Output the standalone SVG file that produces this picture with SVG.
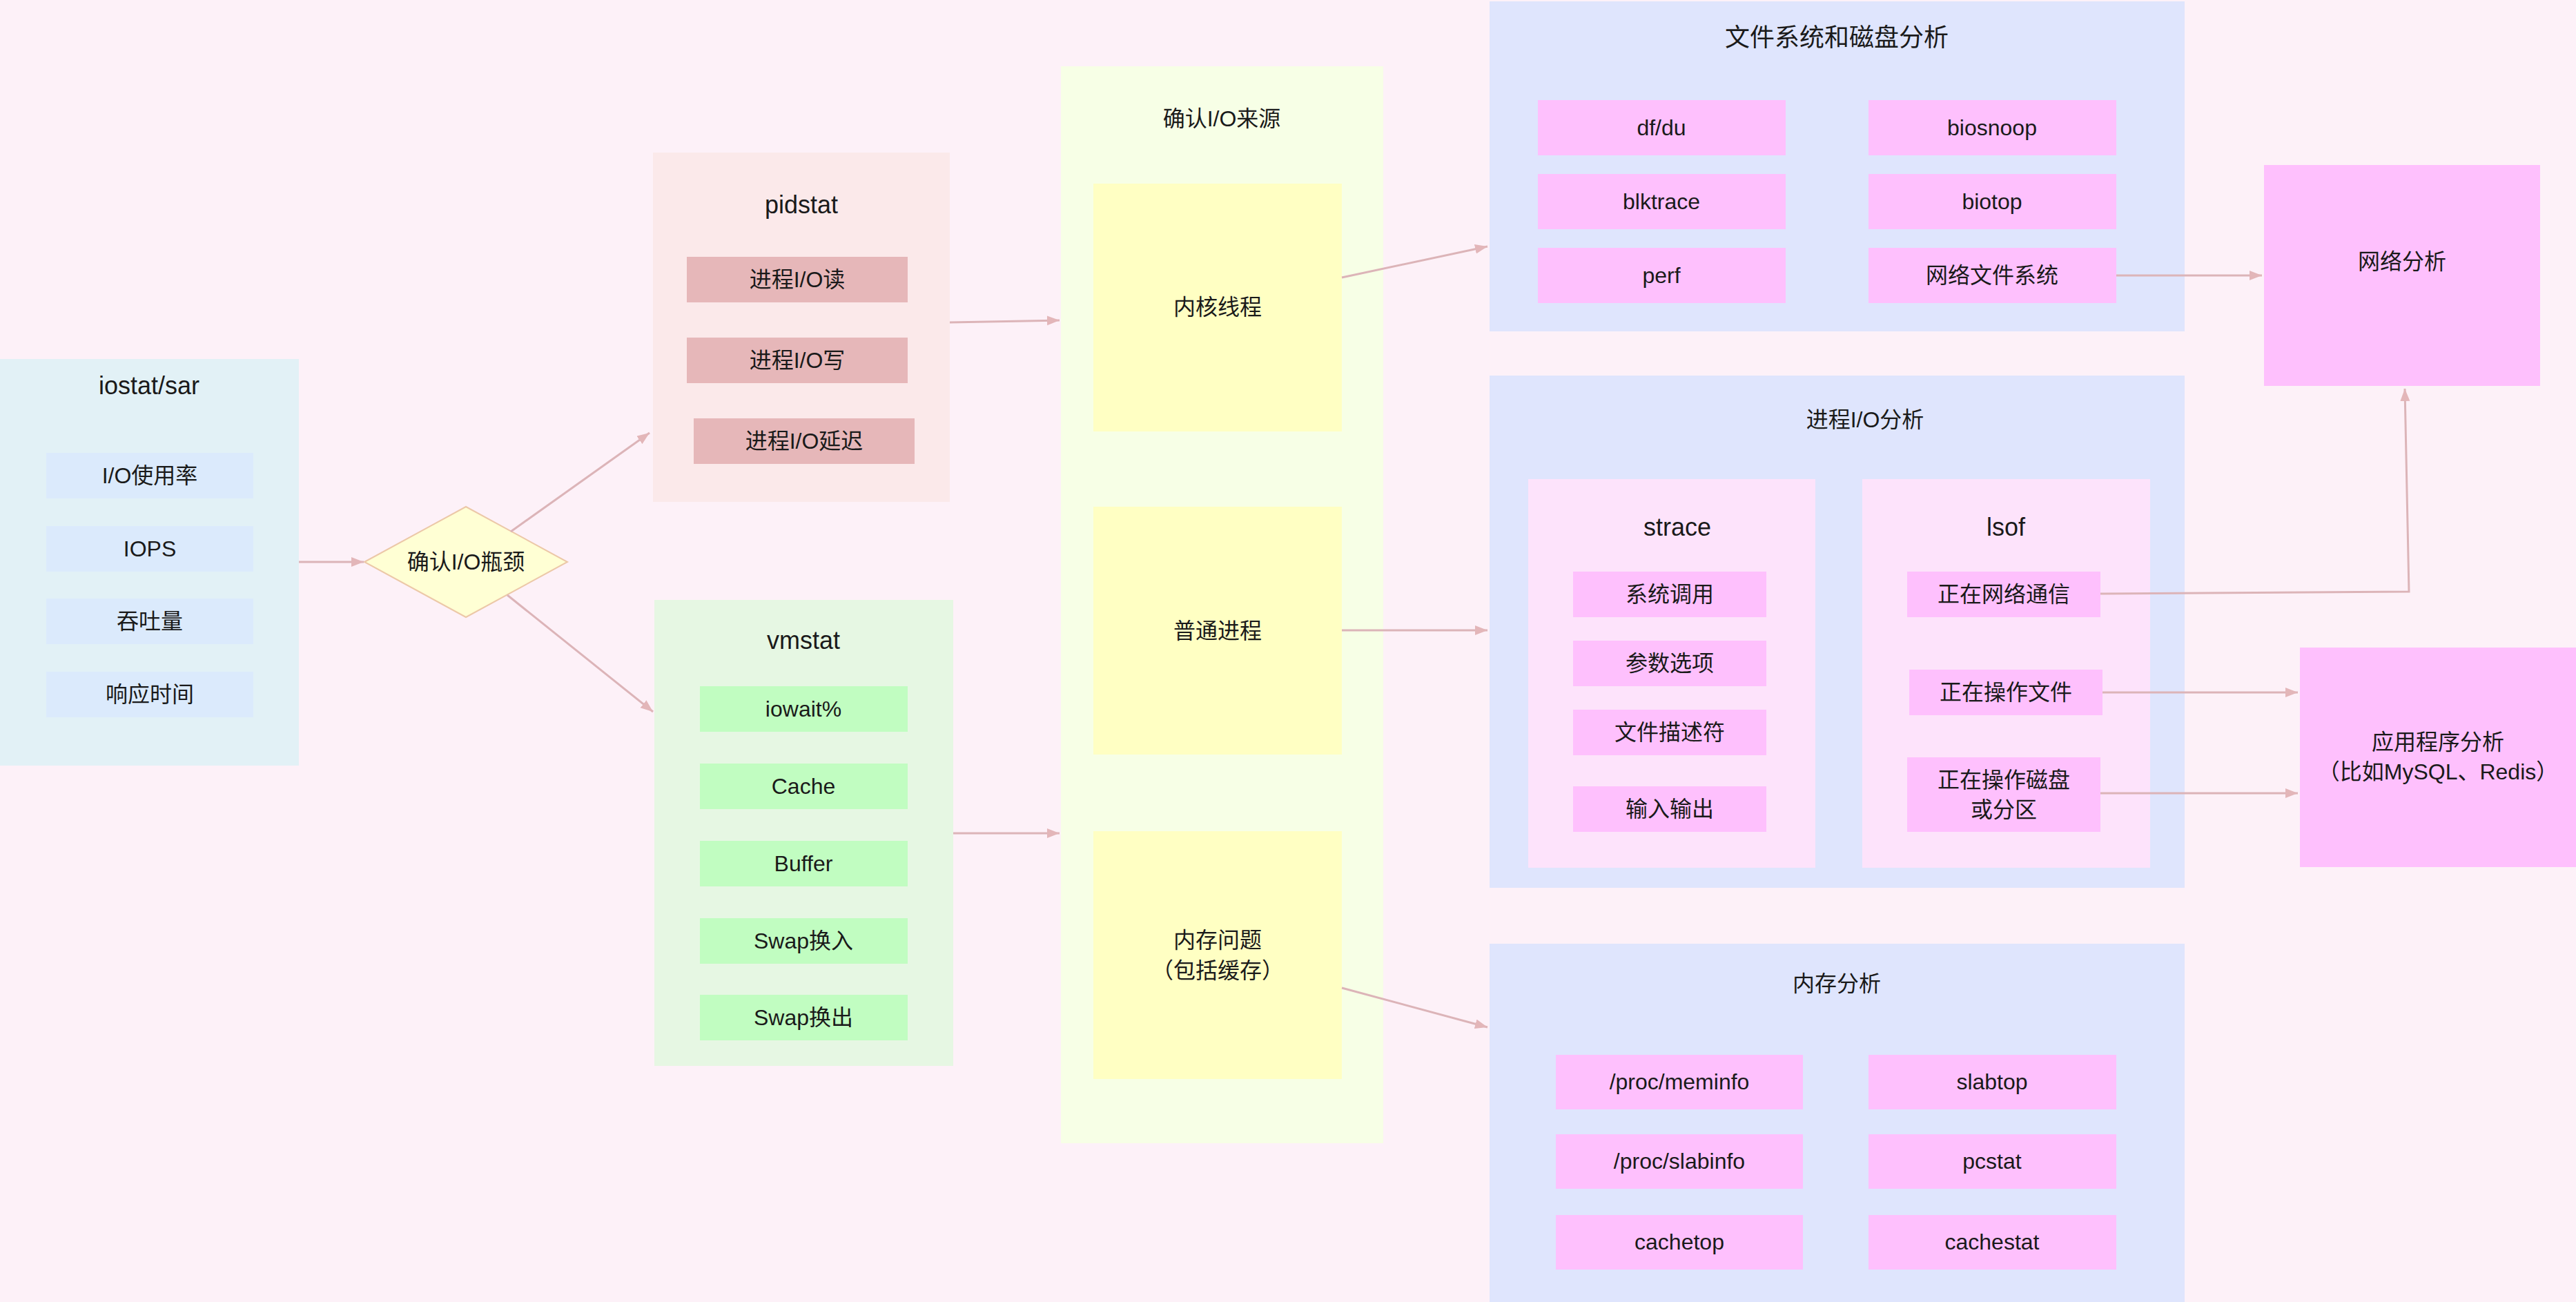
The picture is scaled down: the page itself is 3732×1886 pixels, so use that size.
<svg xmlns="http://www.w3.org/2000/svg" width="3732" height="1886" viewBox="0 0 3732 1886">
<defs>
<style>
text{font-family:"Liberation Sans","Noto Sans CJK SC",sans-serif;fill:#1a1a1a;text-anchor:middle;dominant-baseline:central}
.t36{font-size:36px}
.t32{font-size:32px}
.t31{font-size:32px}
.c-blue{fill:#e2f1f6}
.i-blue{fill:#dbeafc}
.c-red{fill:#fbe9ea}
.i-red{fill:#e6b7b9}
.c-green{fill:#e6f7e3}
.i-green{fill:#c1fdc1}
.c-src{fill:#f7ffe6}
.i-yel{fill:#ffffc3}
.c-ana{fill:#dfe5fd}
.i-pink{fill:#fec0fd}
.c-sub{fill:#fde3fb}
.conn{fill:none;stroke:#dcb4b8;stroke-width:3;marker-end:url(#arr)}
</style>
<marker id="arr" markerUnits="userSpaceOnUse" markerWidth="20" markerHeight="16" refX="18" refY="7" orient="auto">
<path d="M0,0 L18,7 L0,14 z" fill="#e3b6b9"/>
</marker>
</defs>
<rect width="3732" height="1886" fill="#fdf1f8"/>

<g id="iostat">
<rect class="c-blue" x="0" y="520" width="433" height="589"/>
<text class="t36" x="216" y="558">iostat/sar</text>
<rect class="i-blue" x="67" y="656" width="300" height="66"/>
<text class="t31" x="217" y="689">I/O使用率</text>
<rect class="i-blue" x="67" y="762" width="300" height="66"/>
<text class="t31" x="217" y="795">IOPS</text>
<rect class="i-blue" x="67" y="867" width="300" height="66"/>
<text class="t31" x="217" y="900">吞吐量</text>
<rect class="i-blue" x="67" y="973" width="300" height="66"/>
<text class="t31" x="217" y="1006">响应时间</text>
</g>

<g id="bottleneck">
<polygon points="528,814 675,734 822,814 675,894" fill="#ffffd4" stroke="#ecc8a8" stroke-width="2"/>
<text class="t31" x="675" y="814">确认I/O瓶颈</text>
</g>

<g id="pidstat">
<rect class="c-red" x="946" y="221" width="430" height="506"/>
<text class="t36" x="1161" y="296">pidstat</text>
<rect class="i-red" x="995" y="372" width="320" height="66"/>
<text class="t31" x="1155" y="405">进程I/O读</text>
<rect class="i-red" x="995" y="489" width="320" height="66"/>
<text class="t31" x="1155" y="522">进程I/O写</text>
<rect class="i-red" x="1005" y="606" width="320" height="66"/>
<text class="t31" x="1165" y="639">进程I/O延迟</text>
</g>

<g id="vmstat">
<rect class="c-green" x="948" y="869" width="433" height="675"/>
<text class="t36" x="1164" y="927">vmstat</text>
<rect class="i-green" x="1014" y="994" width="301" height="66"/>
<text class="t31" x="1164" y="1027">iowait%</text>
<rect class="i-green" x="1014" y="1106" width="301" height="66"/>
<text class="t31" x="1164" y="1139">Cache</text>
<rect class="i-green" x="1014" y="1218" width="301" height="66"/>
<text class="t31" x="1164" y="1251">Buffer</text>
<rect class="i-green" x="1014" y="1330" width="301" height="66"/>
<text class="t31" x="1164" y="1363">Swap换入</text>
<rect class="i-green" x="1014" y="1441" width="301" height="66"/>
<text class="t31" x="1164" y="1474">Swap换出</text>
</g>

<g id="source">
<rect class="c-src" x="1537" y="96" width="467" height="1560"/>
<text class="t32" x="1770" y="172">确认I/O来源</text>
</g>
<g id="kernel">
<rect class="i-yel" x="1584" y="266" width="360" height="359"/>
<text class="t32" x="1764" y="445">内核线程</text>
</g>
<g id="process">
<rect class="i-yel" x="1584" y="734" width="360" height="359"/>
<text class="t32" x="1764" y="914">普通进程</text>
</g>
<g id="memory">
<rect class="i-yel" x="1584" y="1204" width="360" height="359"/>
<text class="t32" x="1764" y="1362">内存问题</text>
<text class="t32" x="1764" y="1406">（包括缓存）</text>
</g>

<g id="fs">
<rect class="c-ana" x="2158" y="2" width="1007" height="478"/>
<text class="t36" x="2661" y="54">文件系统和磁盘分析</text>
<rect class="i-pink" x="2228" y="145" width="359" height="80"/>
<text class="t31" x="2407" y="185">df/du</text>
<rect class="i-pink" x="2707" y="145" width="359" height="80"/>
<text class="t31" x="2886" y="185">biosnoop</text>
<rect class="i-pink" x="2228" y="252" width="359" height="80"/>
<text class="t31" x="2407" y="292">blktrace</text>
<rect class="i-pink" x="2707" y="252" width="359" height="80"/>
<text class="t31" x="2886" y="292">biotop</text>
<rect class="i-pink" x="2228" y="359" width="359" height="80"/>
<text class="t31" x="2407" y="399">perf</text>
<rect class="i-pink" x="2707" y="359" width="359" height="80"/>
<text class="t31" x="2886" y="399">网络文件系统</text>
</g>

<g id="procio">
<rect class="c-ana" x="2158" y="544" width="1007" height="742"/>
<text class="t32" x="2702" y="608">进程I/O分析</text>
<rect class="c-sub" x="2214" y="694" width="416" height="563"/>
<text class="t36" x="2430" y="763">strace</text>
<rect class="i-pink" x="2279" y="828" width="280" height="66"/>
<text class="t31" x="2419" y="861">系统调用</text>
<rect class="i-pink" x="2279" y="928" width="280" height="66"/>
<text class="t31" x="2419" y="961">参数选项</text>
<rect class="i-pink" x="2279" y="1028" width="280" height="66"/>
<text class="t31" x="2419" y="1061">文件描述符</text>
<rect class="i-pink" x="2279" y="1139" width="280" height="66"/>
<text class="t31" x="2419" y="1172">输入输出</text>
<rect class="c-sub" x="2698" y="694" width="417" height="563"/>
<text class="t36" x="2906" y="763">lsof</text>
<rect class="i-pink" x="2763" y="828" width="280" height="66"/>
<text class="t31" x="2903" y="861">正在网络通信</text>
<rect class="i-pink" x="2766" y="970" width="280" height="66"/>
<text class="t31" x="2906" y="1003">正在操作文件</text>
<rect class="i-pink" x="2763" y="1097" width="280" height="108"/>
<text class="t31" x="2903" y="1130">正在操作磁盘</text>
<text class="t31" x="2903" y="1173">或分区</text>
</g>

<g id="memana">
<rect class="c-ana" x="2158" y="1367" width="1007" height="519"/>
<text class="t32" x="2661" y="1425">内存分析</text>
<rect class="i-pink" x="2254" y="1528" width="358" height="79"/>
<text class="t31" x="2433" y="1567">/proc/meminfo</text>
<rect class="i-pink" x="2707" y="1528" width="359" height="79"/>
<text class="t31" x="2886" y="1567">slabtop</text>
<rect class="i-pink" x="2254" y="1643" width="358" height="79"/>
<text class="t31" x="2433" y="1682">/proc/slabinfo</text>
<rect class="i-pink" x="2707" y="1643" width="359" height="79"/>
<text class="t31" x="2886" y="1682">pcstat</text>
<rect class="i-pink" x="2254" y="1760" width="358" height="79"/>
<text class="t31" x="2433" y="1799">cachetop</text>
<rect class="i-pink" x="2707" y="1760" width="359" height="79"/>
<text class="t31" x="2886" y="1799">cachestat</text>
</g>

<g id="network">
<rect class="i-pink" x="3280" y="239" width="400" height="320"/>
<text class="t32" x="3480" y="379">网络分析</text>
</g>
<g id="app">
<rect class="i-pink" x="3332" y="938" width="400" height="318"/>
<text class="t32" x="3532" y="1075">应用程序分析</text>
<text class="t32" x="3532" y="1118">（比如MySQL、Redis）</text>
</g>

<g id="connectors">
<path class="conn" d="M433,814 L527,814"/>
<path class="conn" d="M740,770 L941,627"/>
<path class="conn" d="M735,862 L946,1031"/>
<path class="conn" d="M1376,467 L1535,464"/>
<path class="conn" d="M1381,1207 L1535,1207"/>
<path class="conn" d="M1944,402 L2155,357"/>
<path class="conn" d="M1944,913 L2155,913"/>
<path class="conn" d="M1944,1431 L2155,1488"/>
<path class="conn" d="M3066,399 L3277,399"/>
<path class="conn" d="M3043,860 L3490,857 L3484,563"/>
<path class="conn" d="M3046,1003 L3329,1003"/>
<path class="conn" d="M3043,1149 L3329,1149"/>
</g>
</svg>
